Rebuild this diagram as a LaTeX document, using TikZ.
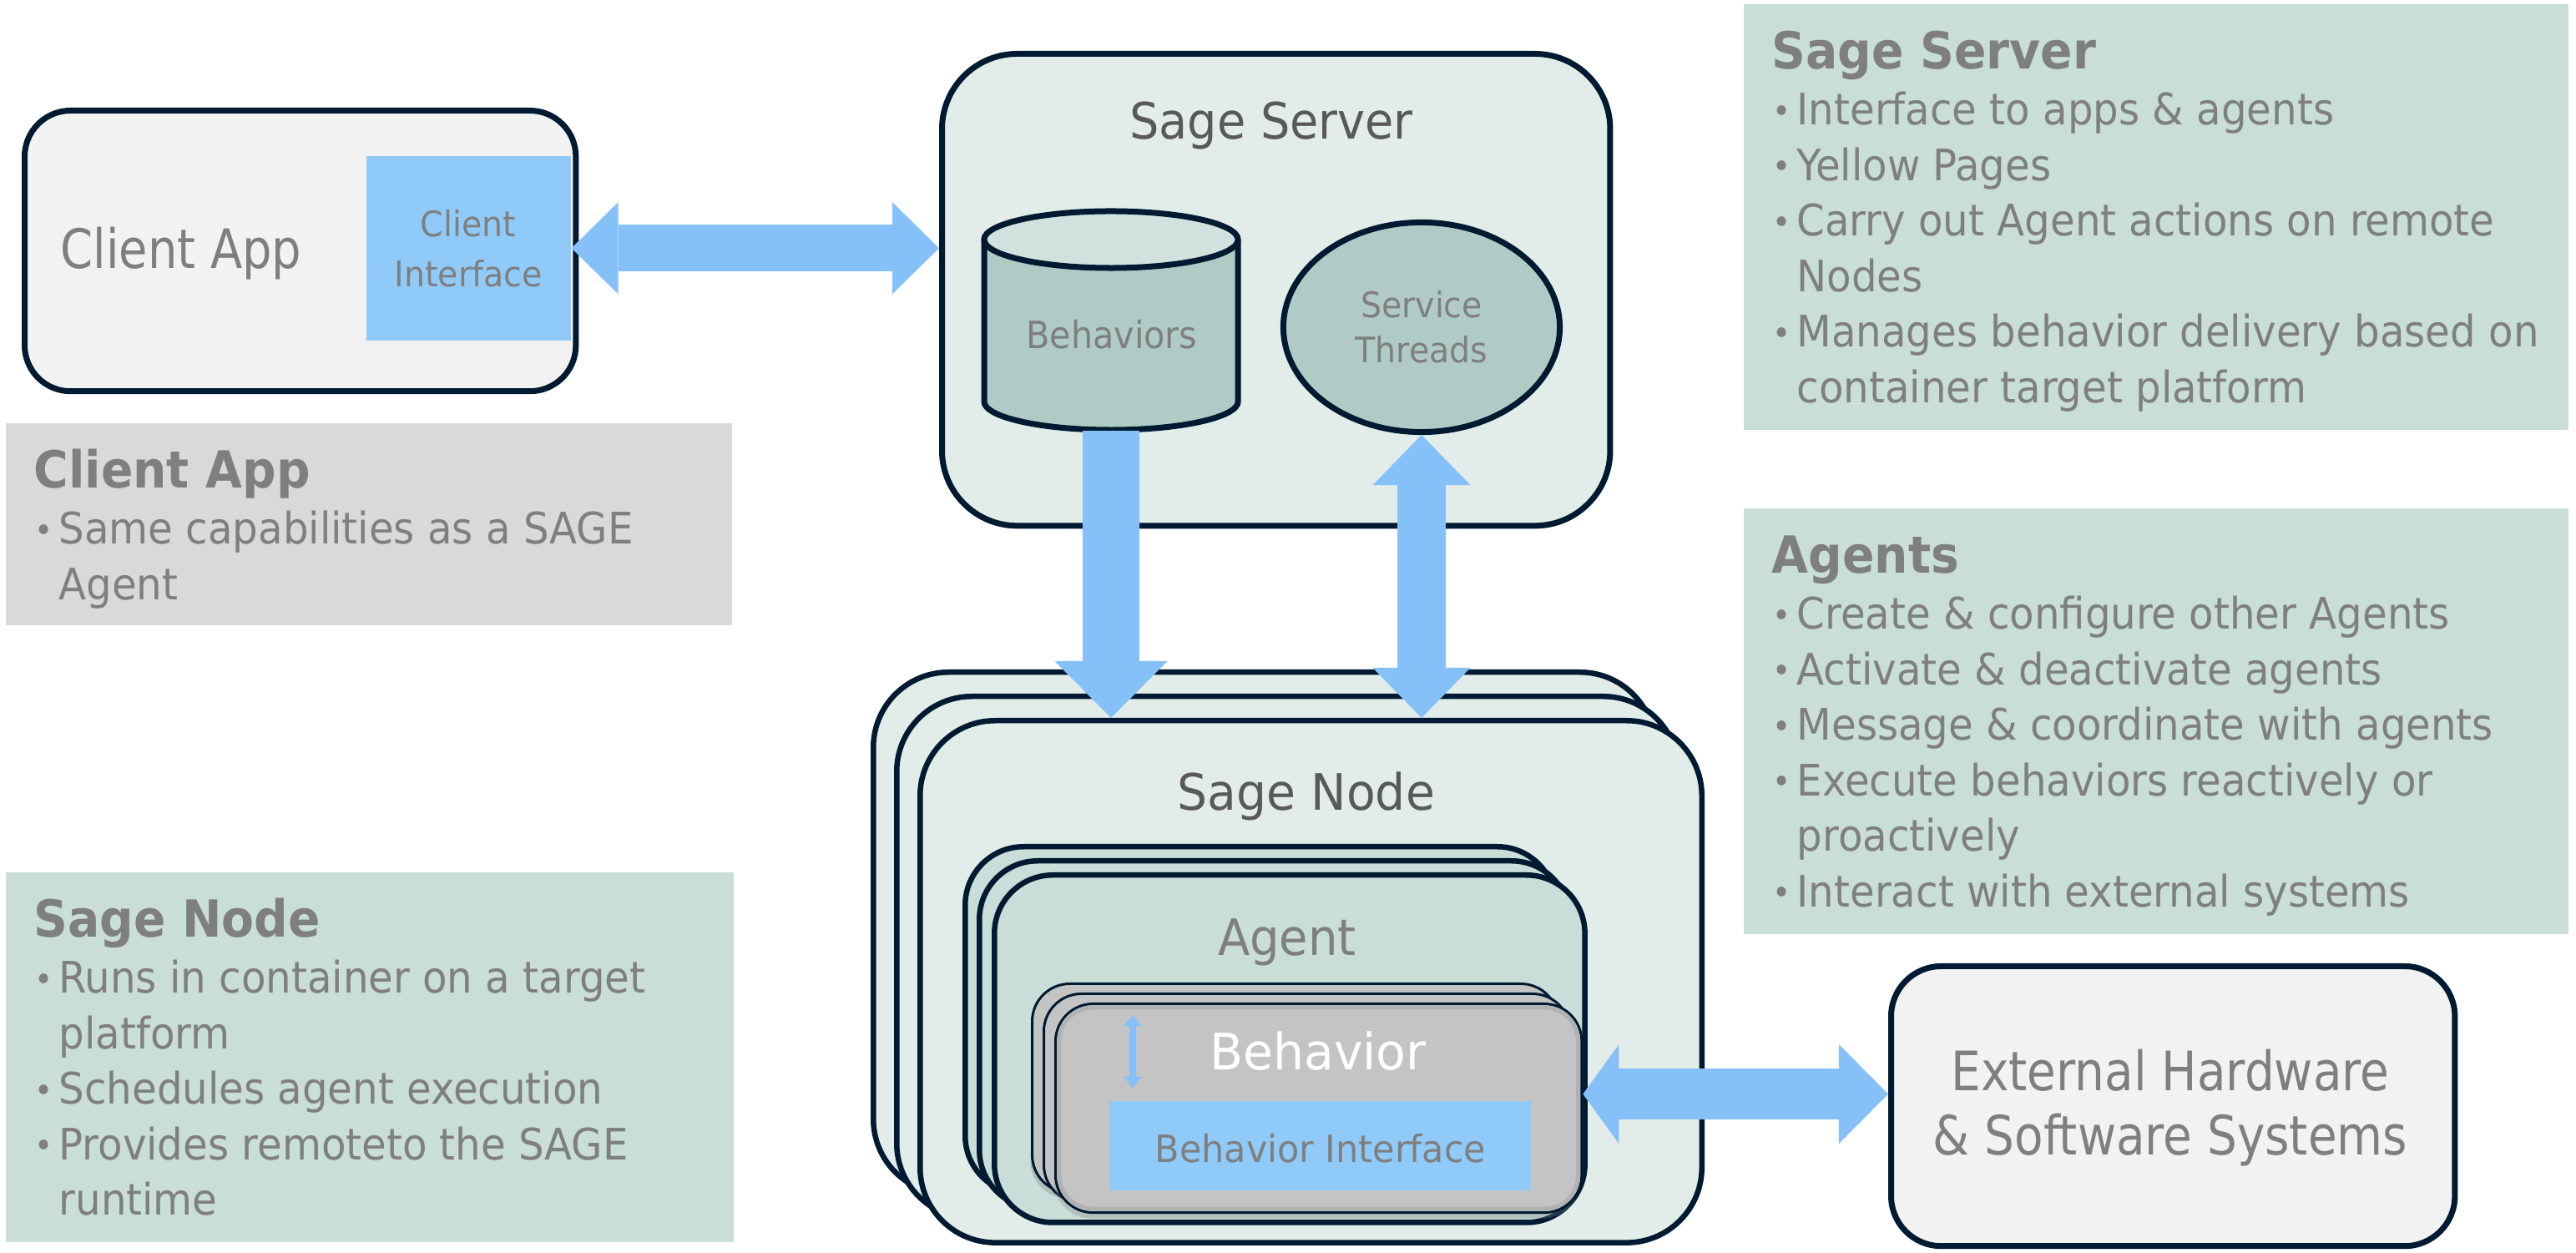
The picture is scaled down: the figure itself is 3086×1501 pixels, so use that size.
\documentclass[tikz,border=0pt]{standalone}
\usepackage{fontspec}
\setmainfont{DejaVu Sans Condensed}
\usetikzlibrary{arrows.meta,shapes.geometric,calc,shadows}
\definecolor{navy}{HTML}{001A31}
\definecolor{arrblue}{HTML}{85C1F8}
\definecolor{ifblue}{HTML}{90CAF9}
\definecolor{srvfill}{HTML}{E2ECE9}
\definecolor{sage}{HTML}{C9DDD9}
\definecolor{cylbody}{HTML}{B0CBC5}
\definecolor{cyltop}{HTML}{D1E1DE}
\definecolor{lightbox}{HTML}{F2F2F2}
\definecolor{graybox}{HTML}{D9D9D9}
\definecolor{txtgray}{HTML}{7F7F7F}
\definecolor{darktxt}{HTML}{595959}
\definecolor{behgray}{HTML}{C4C4C4}
\newcommand\bul{\makebox[0.3cm][l]{\hspace{0.01cm}\raisebox{0.025cm}{\fontsize{11.5pt}{11.5pt}\selectfont •}}}
\newcommand\ind{\hspace*{0.3cm}}
\newcommand\hd[1]{{\fontsize{17.4pt}{0.665cm}\selectfont\bfseries #1\par}}
\newcommand\fsz[2]{\fontsize{#1}{#1}\selectfont\addfontfeatures{FakeStretch=#2}}
\begin{document}
\begin{tikzpicture}[x=0.01cm,y=-0.01cm,
  tbox/.style={anchor=north west, inner sep=0pt, draw=none},
  rbox/.style={anchor=north west, inner sep=0pt, draw=navy, line width=0.07cm, rounded corners=#1},
  list/.style={anchor=base west, inner sep=0pt, text=txtgray, font=\fontsize{14.8pt}{0.665cm}\selectfont\addfontfeatures{FakeStretch=1.03}},
  lbl/.style={anchor=base, inner sep=0pt, text=txtgray},
  fat/.style n args={3}{draw=arrblue, line width=#1,
     arrows={Triangle[width=#2,length=#3,line width=0pt]-Triangle[width=#2,length=#3,line width=0pt]}},
  fatone/.style n args={3}{draw=arrblue, line width=#1,
     arrows={-Triangle[width=#2,length=#3,line width=0pt]}},
]
\useasboundingbox (0,0) rectangle (3086,1501);

% ---------- text boxes ----------
\node[tbox, fill=sage, minimum width=9.88cm, minimum height=5.10cm] (ssbox) at (2088,4) {};
\node[tbox, fill=sage, minimum width=9.88cm, minimum height=5.10cm] (agbox) at (2088,608) {};
\node[tbox, fill=graybox, minimum width=8.70cm, minimum height=2.42cm] (cabox) at (6,506) {};
\node[tbox, fill=sage, minimum width=8.72cm, minimum height=4.43cm] (snbox) at (6,1044) {};

\node[list] (sstext) at (2122,83) {\begin{minipage}[t]{12cm}
\hd{Sage Server}
\bul Interface to apps \& agents\par
\bul Yellow Pages\par
\bul Carry out Agent actions on remote\par
\ind Nodes\par
\bul Manages behavior delivery based on\par
\ind container target platform\end{minipage}};

\node[list] (agtext) at (2122,687) {\begin{minipage}[t]{12cm}
\hd{Agents}
\bul Create \& configure other Agents\par
\bul Activate \& deactivate agents\par
\bul Message \& coordinate with agents\par
\bul Execute behaviors reactively or\par
\ind proactively\par
\bul Interact with external systems\end{minipage}};

\node[list] (catext) at (40,585) {\begin{minipage}[t]{12cm}
\hd{Client App}
\bul Same capabilities as a SAGE\par
\ind Agent\end{minipage}};

\node[list] (sntext) at (40,1123) {\begin{minipage}[t]{12cm}
\hd{Sage Node}
\bul Runs in container on a target\par
\ind platform\par
\bul Schedules agent execution\par
\bul Provides remoteto the SAGE\par
\ind runtime\end{minipage}};

% ---------- client app ----------
\node[rbox=0.55cm, fill=lightbox, minimum width=6.60cm, minimum height=3.36cm] (client) at (26,129) {};
\node[tbox, fill=ifblue, minimum width=2.45cm, minimum height=2.21cm] (ci) at (438,186) {};
\node[lbl, font=\fsz{18.5pt}{0.955}] (catitle) at (217,322) {Client App};
\node[lbl, font=\fsz{12pt}{1.04}] (ci1) at (561,284) {Client};
\node[lbl, font=\fsz{12pt}{1.04}] (ci2) at (561,344) {Interface};

% ---------- sage server ----------
\node[rbox=0.9cm, fill=srvfill, minimum width=8.00cm, minimum height=5.65cm] (server) at (1125,61) {};
\node[lbl, text=darktxt, font=\fsz{17.1pt}{1.03}] (srvtitle) at (1523,167) {Sage Server};
% cylinder
\node[inner sep=0pt, minimum width=3.04cm, minimum height=2.62cm] (beh) at (1331,384) {};
\fill[cylbody] (1179,287) -- (1179,481) arc[start angle=180,end angle=360,x radius=1.52cm,y radius=0.34cm] -- (1483,287) -- cycle;
\draw[navy, line width=0.07cm] (1179,287) -- (1179,481) arc[start angle=180,end angle=360,x radius=1.52cm,y radius=0.34cm] -- (1483,287);
\filldraw[draw=navy, fill=cyltop, line width=0.07cm] (1331,287) ellipse[x radius=1.52cm, y radius=0.34cm];
\node[lbl, font=\fsz{12.8pt}{1.02}] (behlbl) at (1332,418) {Behaviors};
% service threads
\node[ellipse, draw=navy, line width=0.07cm, fill=cylbody, inner sep=0pt, minimum width=3.31cm, minimum height=2.51cm] (st) at (1703,392) {};
\node[lbl, font=\fsz{12pt}{1.04}] (st1) at (1703,381) {Service};
\node[lbl, font=\fsz{12pt}{1.04}] (st2) at (1703,435) {Threads};

% ---------- sage node stack ----------
\node[rbox=0.9cm, fill=srvfill, line width=0.065cm, minimum width=9.36cm, minimum height=6.25cm] (sn1) at (1043,802) {};
\node[rbox=0.9cm, fill=srvfill, line width=0.065cm, minimum width=9.36cm, minimum height=6.25cm] (sn2) at (1071,831) {};
\node[rbox=0.9cm, fill=srvfill, line width=0.065cm, minimum width=9.36cm, minimum height=6.25cm] (sn3) at (1099,860) {};
\node[lbl, text=darktxt, font=\fsz{17.1pt}{1.05}] (sntitle) at (1565,971) {Sage Node};

% ---------- agent stack ----------
\node[rbox=0.7cm, fill=sage, line width=0.065cm, minimum width=7.07cm, minimum height=4.16cm] (ag1) at (1153,1011) {};
\node[rbox=0.7cm, fill=sage, line width=0.065cm, minimum width=7.07cm, minimum height=4.16cm] (ag2) at (1170,1028) {};
\node[rbox=0.7cm, fill=sage, line width=0.065cm, minimum width=7.07cm, minimum height=4.16cm] (ag3) at (1188,1045) {};
\node[lbl, font=\fsz{17.1pt}{1.035}] (agtitle) at (1542,1145) {Agent};

% ---------- behavior stack ----------
\node[rbox=0.45cm, fill=behgray, line width=0.03cm, minimum width=6.30cm, minimum height=2.50cm,
      drop shadow={shadow xshift=-0.02cm, shadow yshift=-0.07cm, opacity=0.35}] (bh1) at (1235,1177) {};
\node[rbox=0.45cm, fill=behgray, line width=0.03cm, minimum width=6.30cm, minimum height=2.50cm] (bh2) at (1249,1189) {};
\node[rbox=0.45cm, fill=behgray, line width=0.03cm, minimum width=6.30cm, minimum height=2.50cm,
      drop shadow={shadow xshift=-0.02cm, shadow yshift=-0.07cm, opacity=0.3}] (bh3) at (1263,1201) {};
\draw[line width=0.05cm, draw=black!30, rounded corners=0.4cm] ($(bh3.north west)+(6,6)$) rectangle ($(bh3.south east)+(-6,-6)$);
\node[lbl, text=white, font=\fsz{17.1pt}{1.08}] (bhtitle) at (1579,1282) {Behavior};
\node[tbox, fill=ifblue, minimum width=5.05cm, minimum height=1.07cm] (bi) at (1328,1318) {};
\node[lbl, font=\fsz{12.8pt}{1.06}] (bilbl) at (1582,1393) {Behavior Interface};
\coordinate (sa1) at (1357,1216);
\coordinate (sa2) at (1357,1303);
\draw[draw=arrblue, line width=0.08cm, arrows={Triangle[width=0.22cm,length=0.13cm,line width=0pt]-Triangle[width=0.22cm,length=0.13cm,line width=0pt]}] (sa1) -- (sa2);

% ---------- external ----------
\node[rbox=0.6cm, fill=lightbox, minimum width=6.75cm, minimum height=3.35cm] (ext) at (2262,1154) {};
\node[lbl, font=\fsz{18.5pt}{0.965}] (ext1) at (2600,1307) {External Hardware};
\node[lbl, font=\fsz{18.5pt}{0.965}] (ext2) at (2600,1384) {\& Software Systems};

% ---------- arrows ----------
\draw[fat={0.56cm}{1.10cm}{0.56cm}] (ci.east) -- (ci.east -| server.west);
\draw[fatone={0.67cm}{1.35cm}{0.68cm}] (beh.south) -- (beh.south |- sn3.north);
\draw[fat={0.57cm}{1.17cm}{0.60cm}] (st.south) -- (st.south |- sn3.north);
\coordinate (bharr) at ($(bh3.east)+(0,-17)$);
\draw[draw=arrblue, line width=0.61cm, arrows={Triangle[width=1.19cm,length=0.43cm,line width=0pt]-Triangle[width=1.19cm,length=0.59cm,line width=0pt]}] (bharr) -- (bharr -| ext.west);
\end{tikzpicture}
\end{document}
